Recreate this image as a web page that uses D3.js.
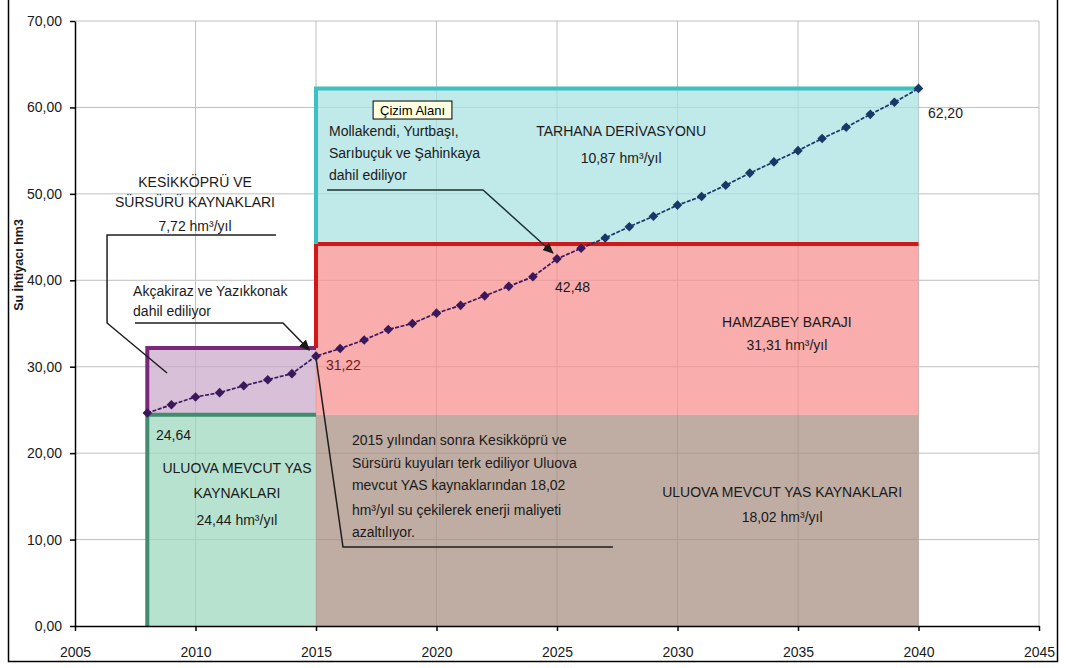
<!DOCTYPE html>
<html><head><meta charset="utf-8">
<script src="https://cdn.jsdelivr.net/npm/d3@7"></script>
<style>
body{margin:0;background:#fff;}
svg{display:block;font-family:"Liberation Sans",Arial,sans-serif;}
</style>
</head><body>
<svg id="chart" width="1066" height="668"></svg>
<script>
// ---------- DATA ----------
const years = [2008,2009,2010,2011,2012,2013,2014,2015,2016,2017,2018,2019,2020,2021,2022,2023,2024,2025,2026,2027,2028,2029,2030,2031,2032,2033,2034,2035,2036,2037,2038,2039,2040];
const demand = [24.64,25.6,26.5,27.0,27.8,28.5,29.2,31.22,32.1,33.1,34.3,35.0,36.2,37.1,38.2,39.3,40.4,42.48,43.7,44.9,46.2,47.4,48.7,49.7,51.0,52.4,53.7,55.0,56.4,57.7,59.2,60.6,62.20];
const labelledYears = [2008,2015,2025,2040];
const labelledValues = ["24,64","31,22","42,48","62,20"];

const xTicks = [2005,2010,2015,2020,2025,2030,2035,2040,2045];
const yTicks = [0,10,20,30,40,50,60,70];

const regionNames  = ["ULUOVA MEVCUT YAS KAYNAKLARI 2008-2015","KESİKKÖPRÜ VE SÜRSÜRÜ KAYNAKLARI","ULUOVA MEVCUT YAS KAYNAKLARI 2015-2040","HAMZABEY BARAJI","TARHANA DERİVASYONU"];
const regionStart  = [2008,2008,2015,2015,2015];
const regionEnd    = [2015,2015,2040,2040,2040];
const regionBottom = [0,24.44,0,24.44,44.2];
const regionTop    = [24.44,32.16,24.44,44.2,62.2];

// ---------- STYLE ----------
const regionFill   = ["#9bd7bc","#caa8ca","#a68e80","#f78e8e","#a8e0e0"];
const regionStroke = ["#3f8c6e","#7a2878",null,"#d01818","#3cc0c0"];
const regionEdgeFrom = [0,24.44,null,32.16,44.2];

const W = 1066, H = 668;
const margin = {left:75, right:27, top:21, bottom:42};
const svg = d3.select("#chart");

const x = d3.scaleLinear().domain([2005,2045]).range([margin.left, W - margin.right]);
const y = d3.scaleLinear().domain([0,70]).range([H - margin.bottom, margin.top]);

const fmt = v => d3.format(".2f")(v).replace(".", ",");

// outer frame
svg.append("rect").attr("x",8.5).attr("y",-4).attr("width",1049).attr("height",665.5)
  .attr("fill","#fff").attr("stroke","#000").attr("stroke-width",1.5);

// gridlines
const grid = svg.append("g");
grid.selectAll("line.v").data(xTicks.slice(1)).join("line")
  .attr("x1",d=>x(d)).attr("x2",d=>x(d)).attr("y1",y(0)).attr("y2",y(70))
  .attr("stroke","#c0c0c0").attr("stroke-width",1);
grid.selectAll("line.h").data(yTicks.slice(1)).join("line")
  .attr("x1",x(2005)).attr("x2",x(2045)).attr("y1",d=>y(d)).attr("y2",d=>y(d))
  .attr("stroke","#c0c0c0").attr("stroke-width",1);

// regions
const idx = d3.range(regionNames.length);
svg.append("g").selectAll("rect").data(idx).join("rect")
  .attr("x",i=>x(regionStart[i])).attr("width",i=>x(regionEnd[i])-x(regionStart[i]))
  .attr("y",i=>y(regionTop[i])).attr("height",i=>y(regionBottom[i])-y(regionTop[i]))
  .attr("fill",i=>regionFill[i]).attr("fill-opacity",0.72);

const borders = svg.append("g").attr("fill","none").attr("stroke-width",4);
idx.filter(i=>regionStroke[i]).forEach(i=>{
  borders.append("path")
    .attr("d", d3.line()([[x(regionStart[i]), y(regionEdgeFrom[i])],[x(regionStart[i]), y(regionTop[i])],[x(regionEnd[i]), y(regionTop[i])]]))
    .attr("stroke", regionStroke[i]).attr("stroke-linejoin","miter");
});

// clip paths for two-tone series (blue over cyan region, purple below)
const defs = svg.append("defs");
defs.append("clipPath").attr("id","clipTop").append("rect")
  .attr("x",0).attr("y",0).attr("width",W).attr("height",y(regionTop[3]));
defs.append("clipPath").attr("id","clipBot").append("rect")
  .attr("x",0).attr("y",y(regionTop[3])).attr("width",W).attr("height",H);
defs.append("marker").attr("id","arr").attr("viewBox","0 0 10 10").attr("refX",9).attr("refY",5)
  .attr("markerWidth",11).attr("markerHeight",11).attr("markerUnits","userSpaceOnUse").attr("orient","auto")
  .append("path").attr("d","M0,0.5 L10,5 L0,9.5 z").attr("fill","#1a1a1a");

const pts = years.map((yr,i)=>[x(yr), y(demand[i])]);
function drawSeries(clip, color){
  const g = svg.append("g").attr("clip-path",`url(#${clip})`);
  g.append("path").attr("d", d3.line()(pts)).attr("fill","none")
    .attr("stroke",color).attr("stroke-width",1.7).attr("stroke-dasharray","4,1.5");
  g.selectAll("path.m").data(pts).join("path")
    .attr("transform",d=>`translate(${d[0]},${d[1]}) rotate(45)`)
    .attr("d", d3.symbol(d3.symbolSquare, 46)()).attr("fill",color);
}
drawSeries("clipBot","#3b175c");
drawSeries("clipTop","#183868");

// leader lines (in data units)
const P = (a,b)=>[x(a),y(b)];
const leaders = svg.append("g").attr("fill","none").attr("stroke","#1e1e1e").attr("stroke-width",1.5);
leaders.append("path").attr("d", d3.line()([P(2013.34,45.24),P(2006.33,45.24),P(2006.33,35.06),P(2008.82,29.27)]));
leaders.append("path").attr("d", d3.line()([P(2007.49,35.06),P(2013.63,35.06),P(2014.72,31.93)])).attr("marker-end","url(#arr)");
leaders.append("path").attr("d", d3.line()([P(2015.46,50.45),P(2021.93,50.45),P(2024.83,43.16)])).attr("marker-end","url(#arr)").attr("stroke","#1f3030");
leaders.append("path").attr("d", d3.line()([P(2027.32,9.14),P(2016.12,9.14),P(2015.0,31.0)]));

// value labels
svg.append("g").selectAll("text").data(labelledYears).join("text")
  .attr("x",(d,i)=>[x(2008.36),x(2015.41),x(2024.92),x(2040.39)][i])
  .attr("y",(d,i)=>[y(21.52),y(29.62),y(38.64),y(58.78)][i])
  .attr("font-size",14).attr("fill",(d,i)=>i===1?"#6a1c1c":"#1a1a1a")
  .text((d,i)=>labelledValues[i]);

// annotation texts
function txt(lines, xv, yvs, anchor){
  lines.forEach((l,i)=>{
    svg.append("text").attr("x",x(xv)).attr("y",y(yvs[i])).attr("text-anchor",anchor)
      .attr("font-size",14).attr("fill","#1a1a1a").text(l);
  });
}
txt(["KESİKKÖPRÜ VE","SÜRSÜRÜ KAYNAKLARI","7,72 hm³/yıl"], 2009.98, [50.79,48.48,45.70], "middle");
txt(["Akçakiraz ve Yazıkkonak","dahil ediliyor"], 2007.41, [38.18,35.87], "start");
txt(["Mollakendi, Yurtbaşı,","Sarıbuçuk ve Şahinkaya","dahil ediliyor"], 2015.54, [56.69,54.15,51.60], "start");
txt(["TARHANA DERİVASYONU","10,87 hm³/yıl"], 2027.66, [56.69,53.57], "middle");
txt(["ULUOVA MEVCUT YAS","KAYNAKLARI","24,44 hm³/yıl"], 2011.72, [17.70,14.81,11.69], "middle");
txt(["2015 yılından sonra Kesikköprü ve","Sürsürü kuyuları terk ediliyor Uluova","mevcut YAS kaynaklarından 18,02","hm³/yıl su çekilerek enerji maliyeti","azaltılıyor."], 2016.49, [20.94,18.28,15.74,12.84,10.30], "start");
txt(["HAMZABEY BARAJI","31,31 hm³/yıl"], 2034.54, [34.59,31.93], "middle");
txt(["ULUOVA MEVCUT YAS KAYNAKLARI","18,02 hm³/yıl"], 2034.34, [14.93,12.03], "middle");

// "Çizim Alanı" tooltip box
svg.append("rect").attr("x",x(2017.37)).attr("y",y(60.74)).attr("width",x(2020.64)-x(2017.37)).attr("height",y(58.66)-y(60.74))
  .attr("fill","#ffffe1").attr("stroke","#000").attr("stroke-width",1);
svg.append("text").attr("x",(x(2017.37)+x(2020.64))/2).attr("y",y(59.12)).attr("text-anchor","middle")
  .attr("font-size",13).attr("fill","#000").text("Çizim Alanı");

// axes
const yAxis = d3.axisLeft(y).tickValues(yTicks).tickFormat(fmt).tickSize(5).tickSizeOuter(0).tickPadding(8);
const xAxis = d3.axisBottom(x).tickValues(xTicks).tickFormat(d3.format("d")).tickSize(5).tickSizeOuter(0).tickPadding(16);
const gy = svg.append("g").attr("transform",`translate(${x(2005)},0)`).call(yAxis);
const gx = svg.append("g").attr("transform",`translate(0,${y(0)})`).call(xAxis);
[gx,gy].forEach(g=>{
  g.selectAll("text").attr("font-size",14).attr("fill","#1a1a1a").attr("font-family","'Liberation Sans',Arial,sans-serif");
  g.selectAll("line").attr("stroke","#000").attr("stroke-width",1.5);
  g.select(".domain").attr("stroke","#000").attr("stroke-width",1.5);
});

// y title
svg.append("text").attr("transform","translate(23,265) rotate(-90)").attr("text-anchor","middle")
  .attr("font-size",12.5).attr("font-weight","bold").attr("fill","#1a1a1a").text("Su İhtiyacı hm3");
</script>
</body></html>
